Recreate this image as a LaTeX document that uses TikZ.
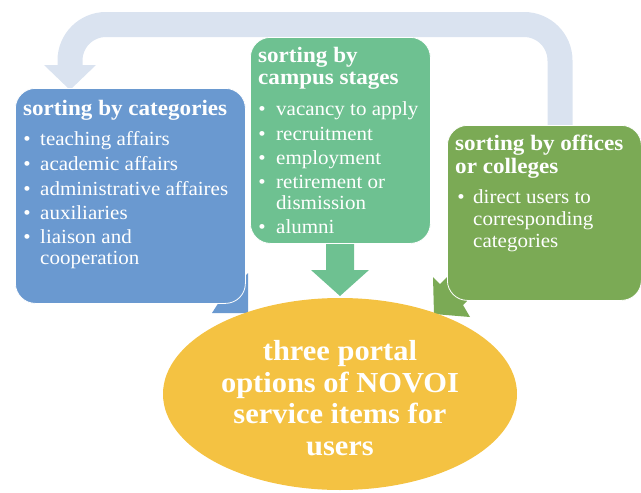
\documentclass[tikz,border=0pt]{standalone}
\usepackage{fontspec}
\setmainfont{Liberation Serif}[FakeStretch=1.05]
\usetikzlibrary{shapes.geometric}
\definecolor{arcC}{HTML}{DAE3F0}
\definecolor{blueC}{HTML}{6A99D0}
\definecolor{mintC}{HTML}{6EC191}
\definecolor{leafC}{HTML}{7BAA55}
\definecolor{goldC}{HTML}{F4C242}
\tikzset{
  panel/.style={draw=white, line width=0.8pt, rounded corners=20pt, anchor=north west, inner sep=0pt},
  ttl/.style={anchor=base west, inner sep=0pt, text=white, font=\bfseries\fontsize{22}{23}\selectfont},
  itm/.style={anchor=base west, inner sep=0pt, text=white, font=\fontsize{20}{21}\selectfont},
  bul/.style={anchor=base, inner sep=0pt, text=white, font=\fontsize{20}{21}\selectfont},
  goaltxt/.style={align=center, inner sep=0pt, text=white, font=\bfseries\fontsize{29}{31.5}\selectfont},
}
\begin{document}
\begin{tikzpicture}[x=1pt,y=-1pt]
\useasboundingbox (0,0) rectangle (641,493);
% feedback arc
\coordinate (arcstart) at (560,140);
\coordinate (arcend) at (70,66);
\draw[arcC, line width=25pt, rounded corners=36pt] (arcstart) -- (560,24.5) -- (70,24.5) -- (arcend);
\fill[arcC] (44,65) -- (96,65) -- (70,90) -- cycle;
% corner arrows
\fill[blueC] (248,273) -- (241,280) -- (215,254) -- (193,276) -- (219,302) -- (212,313) -- (248,313) -- cycle;
\fill[leafC] (433,277) -- (440,284) -- (470,254) -- (492,276) -- (463,305) -- (470,317) -- (434,314) -- cycle;
% middle arrow
\fill[mintC] (326,243) -- (354,243) -- (354,270) -- (369,270) -- (340,296) -- (311,270) -- (326,270) -- cycle;
% boxes
\node[panel, fill=blueC, minimum width=230pt, minimum height=215pt] (cat) at (15,88) {};
\node[panel, fill=mintC, minimum width=180pt, minimum height=206pt] (stage) at (250,37) {};
\node[panel, fill=leafC, minimum width=194pt, minimum height=175pt] (office) at (447,125) {};
% goal ellipse
\node[ellipse, fill=goldC, minimum width=354pt, minimum height=192pt, inner sep=0pt] (goal) at (340,394) {};
\node[goaltxt] (goaltext) at (340,398) {three portal\\options of NOVOI\\service items for\\users};
% blue box text
\node[ttl] (t1) at (23,115) {sorting by categories};
\node[bul] (b11) at (27,145) {•}; \node[itm] (i11) at (40,145) {teaching affairs};
\node[bul] (b12) at (27,170) {•}; \node[itm] (i12) at (40,170) {academic affairs};
\node[bul] (b13) at (27,195) {•}; \node[itm] (i13) at (40,195) {administrative affaires};
\node[bul] (b14) at (27,219) {•}; \node[itm] (i14) at (40,219) {auxiliaries};
\node[bul] (b15) at (27,243) {•}; \node[itm] (i15) at (40,243) {liaison and};
\node[itm] (i16) at (40,264) {cooperation};
% middle box text
\node[ttl] (t2a) at (258,62) {sorting by};
\node[ttl] (t2b) at (258,84) {campus stages};
\node[bul] (b21) at (262,115) {•}; \node[itm] (i21) at (276,115) {vacancy to apply};
\node[bul] (b22) at (262,140) {•}; \node[itm] (i22) at (276,140) {recruitment};
\node[bul] (b23) at (262,164) {•}; \node[itm] (i23) at (276,164) {employment};
\node[bul] (b24) at (262,188) {•}; \node[itm] (i24) at (276,188) {retirement or};
\node[itm] (i25) at (276,209) {dismission};
\node[bul] (b26) at (262,233) {•}; \node[itm] (i26) at (276,233) {alumni};
% right box text
\node[ttl] (t3a) at (455,150) {sorting by offices};
\node[ttl] (t3b) at (455,173) {or colleges};
\node[bul] (b31) at (461,203) {•}; \node[itm] (i31) at (473,203) {direct users to};
\node[itm] (i32) at (473,225) {corresponding};
\node[itm] (i33) at (473,247) {categories};
\end{tikzpicture}
\end{document}
